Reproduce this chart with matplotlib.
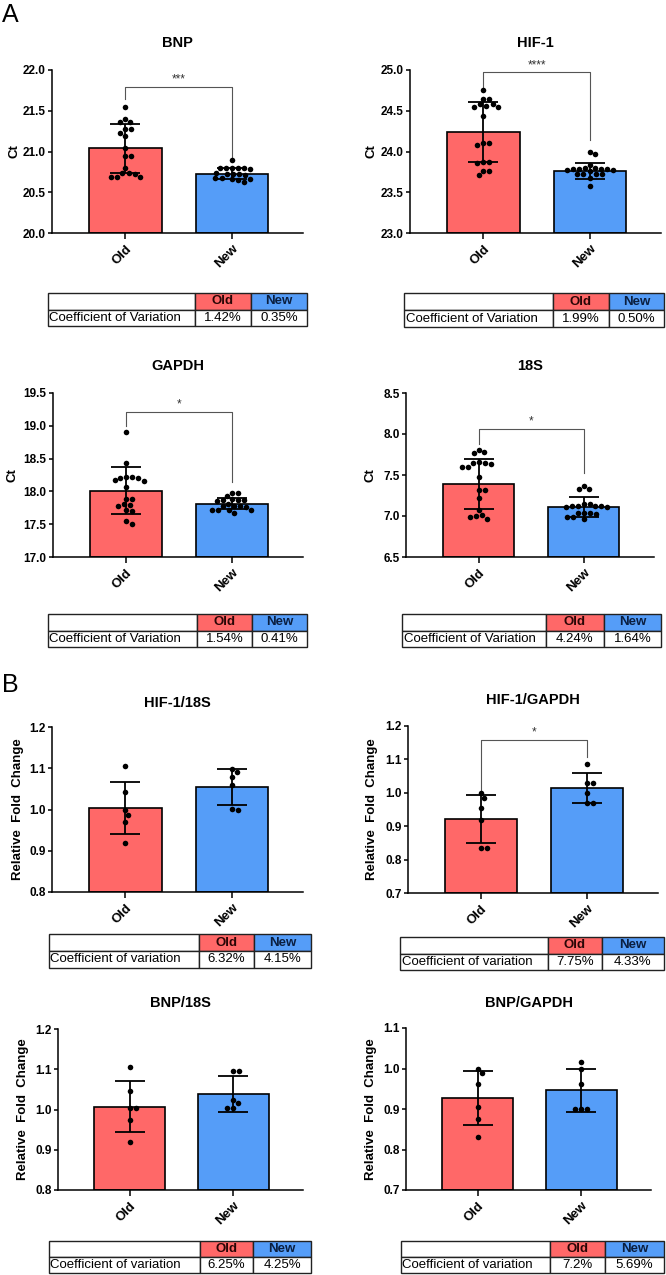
import numpy as np
import matplotlib
matplotlib.use("Agg")
import matplotlib.pyplot as plt
from matplotlib.patches import Rectangle

plt.rcParams['font.family'] = ['Liberation Sans', 'DejaVu Sans']

W, H = 666, 1275

groups = ["Old", "New"]
titles = ["BNP", "HIF-1", "GAPDH", "18S", "HIF-1/18S", "HIF-1/GAPDH", "BNP/18S", "BNP/GAPDH"]
ylabels = ["Ct"] * 4 + ["Relative  Fold  Change"] * 4

# ---- raw Ct values (panel A) ----
bnp_old = [21.55, 21.40, 21.36, 21.36, 21.27, 21.27, 21.23, 21.19, 21.04,
           20.95, 20.95, 20.80, 20.74, 20.74, 20.73, 20.69, 20.69, 20.69]
bnp_new = [20.89, 20.80, 20.80, 20.80, 20.80, 20.80, 20.79, 20.74, 20.73,
           20.72, 20.72, 20.71, 20.68, 20.67, 20.66, 20.66, 20.65, 20.63]
hif_old = [24.75, 24.64, 24.64, 24.58, 24.58, 24.56, 24.55, 24.55, 24.43,
           24.10, 24.10, 24.08, 23.87, 23.87, 23.86, 23.76, 23.76, 23.71]
hif_new = [24.00, 23.97, 23.84, 23.80, 23.80, 23.79, 23.79, 23.78, 23.78,
           23.77, 23.77, 23.76, 23.73, 23.73, 23.72, 23.72, 23.67, 23.58]
gapdh_old = [18.91, 18.43, 18.22, 18.21, 18.20, 18.22, 18.17, 18.16, 18.07,
             17.89, 17.88, 17.81, 17.80, 17.78, 17.71, 17.70, 17.55, 17.51]
gapdh_new = [17.98, 17.97, 17.93, 17.87, 17.87, 17.86, 17.87, 17.88, 17.81,
             17.77, 17.77, 17.76, 17.77, 17.72, 17.72, 17.71, 17.72, 17.67]
s18_old = [7.81, 7.78, 7.77, 7.65, 7.64, 7.66, 7.65, 7.60, 7.60,
           7.48, 7.32, 7.32, 7.22, 7.07, 7.01, 7.00, 6.99, 6.96]
s18_new = [7.37, 7.33, 7.33, 7.15, 7.15, 7.12, 7.12, 7.11, 7.12,
           7.12, 7.11, 7.04, 7.04, 7.03, 7.04, 6.99, 6.99, 6.96]

# ---- relative fold change (panel B) ----
hif18_old = [1.105, 1.042, 1.000, 0.987, 0.970, 0.920]
hif18_new = [1.099, 1.091, 1.079, 1.060, 1.000, 1.002]
hifg_old = [1.000, 0.985, 0.953, 0.918, 0.836, 0.836]
hifg_new = [1.085, 1.030, 1.030, 1.000, 0.968, 0.968]
bnp18_old = [1.105, 1.045, 1.003, 1.003, 0.973, 0.920]
bnp18_new = [1.096, 1.096, 1.024, 1.016, 1.003, 1.003]
bnpg_old = [0.999, 0.989, 0.962, 0.906, 0.876, 0.830]
bnpg_new = [1.017, 1.000, 0.961, 0.900, 0.900, 0.900]

# ---- bar means and SDs (Old, New) ----
bar_means = [[21.04, 20.73], [24.24, 23.76], [18.01, 17.81], [7.39, 7.11],
             [1.004, 1.055], [0.921, 1.015], [1.007, 1.039], [0.927, 0.946]]
bar_sds = [[0.30, 0.07], [0.37, 0.10], [0.355, 0.085], [0.31, 0.12],
           [0.063, 0.044], [0.072, 0.045], [0.064, 0.044], [0.067, 0.054]]

# ---- axis ranges ----
y_lims = [(20, 22), (23, 25), (17, 19.5), (6.5, 8.5), (0.8, 1.2), (0.7, 1.2), (0.8, 1.2), (0.7, 1.1)]
y_steps = [0.5, 0.5, 0.5, 0.5, 0.1, 0.1, 0.1, 0.1]

# ---- significance (label, bracket top, left leg end, right leg end) ----
sig_labels = ["***", "****", "*", "*", None, "*", None, None]
sig_levels = [(21.79, 21.64, 20.89), (24.97, 24.79, 24.14), (19.21, 19.00, 18.14),
              (8.06, 7.88, 7.52), None, (1.158, 1.008, 1.108), None, None]

# ---- coefficient of variation tables ----
cv_row = ["Coefficient of Variation"] * 4 + ["Coefficient of variation"] * 4
cv_old = ["1.42%", "1.99%", "1.54%", "4.24%", "6.32%", "7.75%", "6.25%", "7.2%"]
cv_new = ["0.35%", "0.50%", "0.41%", "1.64%", "4.15%", "4.33%", "4.25%", "5.69%"]

points = [(bnp_old, bnp_new), (hif_old, hif_new), (gapdh_old, gapdh_new), (s18_old, s18_new),
          (hif18_old, hif18_new), (hifg_old, hifg_new), (bnp18_old, bnp18_new), (bnpg_old, bnpg_new)]

# ---- layout (pixels: left, top, right, bottom) ----
ax_boxes = [(52, 70, 303, 233), (410, 70, 661, 233), (53, 393, 303, 557), (406, 393, 654, 557),
            (52, 727, 303, 892), (408, 726, 658, 893), (58, 1029, 303, 1190), (406, 1028, 651, 1190)]
tab_boxes = [(48, 293, 307, 326, 195, 251), (404, 293, 664, 327, 553, 609),
             (48, 614, 307, 647, 197, 252), (402, 614, 661, 647, 546, 604),
             (49, 934, 311, 968, 199, 254), (400, 937, 664, 970, 548, 602),
             (49, 1241, 311, 1273, 200, 253), (401, 1241, 664, 1273, 550, 605)]
title_y = [43, 43, 366, 366, 703, 700, 1003, 1003]
ylabel_x = [14, 372, 13, 370, 18, 372, 23, 371]

RED = '#FF6868'
BLUE = '#559DF8'
XLIM = (-0.69, 1.67)
BAR_W = 0.68


def swarm_offsets(vals, px_per_y, px_per_x, d=5.8):
    vals = np.asarray(vals, float)
    ypx = vals * px_per_y
    order = np.argsort(-vals)
    placed = []
    offs = np.zeros(len(vals))
    cands = np.concatenate([[0.0], np.ravel(np.column_stack([np.arange(0.5, 60, 0.5),
                                                            -np.arange(0.5, 60, 0.5)]))])
    for i in order:
        for c in cands:
            ok = True
            for (px, py) in placed:
                if (c - px) ** 2 + (ypx[i] - py) ** 2 < d * d:
                    ok = False
                    break
            if ok:
                offs[i] = c
                placed.append((c, ypx[i]))
                break
    return offs / px_per_x


fig = plt.figure(figsize=(W / 100, H / 100), dpi=100)


def fbox(l, t, r, b):
    return [l / W, 1 - b / H, (r - l) / W, (b - t) / H]


for k in range(8):
    l, t, r, b = ax_boxes[k]
    ax = fig.add_axes(fbox(l, t, r, b))
    y0, y1 = y_lims[k]
    ax.set_xlim(*XLIM)
    ax.set_ylim(y0, y1)
    xs = np.arange(2)
    ax.bar(xs, np.array(bar_means[k]) - y0, bottom=y0, width=BAR_W, color=[RED, BLUE],
           edgecolor='black', linewidth=1.2, zorder=1)
    ax.errorbar(xs, bar_means[k], yerr=bar_sds[k], fmt='none', ecolor='black',
                elinewidth=1.3, capsize=10.5, capthick=1.3, zorder=2)
    px_per_y = (b - t) / (y1 - y0)
    px_per_x = (r - l) / (XLIM[1] - XLIM[0])
    for g in range(2):
        v = points[k][g]
        off = swarm_offsets(v, px_per_y, px_per_x)
        ax.scatter(g + off, v, s=16, color='black', zorder=3, linewidths=0, clip_on=False)
    ticks = np.arange(y0, y1 + 1e-9, y_steps[k])
    ax.set_yticks(ticks)
    ax.set_yticklabels([f"{v:.1f}" for v in ticks], fontweight='bold', fontsize=8.5)
    ax.set_xticks(xs)
    ax.set_xticklabels(groups, rotation=45, ha='right', rotation_mode='anchor',
                       fontweight='bold', fontsize=9.5)
    for s in ['top', 'right']:
        ax.spines[s].set_visible(False)
    for s in ['left', 'bottom']:
        ax.spines[s].set_linewidth(1.1)
    ax.tick_params(axis='y', length=3, width=1.1, pad=1.5)
    ax.tick_params(axis='x', length=4, width=1.1, pad=3)
    if sig_labels[k]:
        top, lleg, rleg = sig_levels[k]
        ax.plot([0, 0, 1, 1], [lleg, top, top, rleg], color='#555555', lw=0.8,
                clip_on=False, zorder=2)
        ax.text(0.5, top + (y1 - y0) * 0.008, sig_labels[k], ha='center', va='bottom',
                fontsize=8.5, color='#333333')
    fig.text((l + r) / 2 / W, 1 - title_y[k] / H, titles[k], ha='center', va='center',
             fontweight='bold', fontsize=10.5)
    fig.text(ylabel_x[k] / W, 1 - (t + b) / 2 / H, ylabels[k], ha='center', va='center',
             rotation=90, fontweight='bold', fontsize=9.5)

    # table
    tl, tt, tr, tb, c1, c2 = tab_boxes[k]
    tax = fig.add_axes(fbox(tl, tt, tr, tb))
    tax.set_xlim(tl, tr)
    tax.set_ylim(tb, tt)
    tax.axis('off')
    mid = (tt + tb) / 2
    cells = [(tl, tt, c1, mid, 'white'), (c1, tt, c2, mid, RED), (c2, tt, tr, mid, BLUE),
             (tl, mid, c1, tb, 'white'), (c1, mid, c2, tb, 'white'), (c2, mid, tr, tb, 'white')]
    for (x0, ya, x1, yb, col) in cells:
        tax.add_patch(Rectangle((x0, ya), x1 - x0, yb - ya, facecolor=col,
                                edgecolor='#222222', linewidth=1.0, clip_on=False))
    tax.text((c1 + c2) / 2, (tt + mid) / 2, groups[0], ha='center', va='center',
             fontweight='bold', fontsize=9.5, color='#2a0606')
    tax.text((c2 + tr) / 2, (tt + mid) / 2, groups[1], ha='center', va='center',
             fontweight='bold', fontsize=9.5, color='#0b1f40')
    tax.text(tl + 1.5, (mid + tb) / 2, cv_row[k], ha='left', va='center', fontsize=9.5)
    tax.text((c1 + c2) / 2, (mid + tb) / 2, cv_old[k], ha='center', va='center', fontsize=9.5)
    tax.text((c2 + tr) / 2, (mid + tb) / 2, cv_new[k], ha='center', va='center', fontsize=9.5)

fig.text(2 / W, 1 - 15 / H, "A", ha='left', va='center', fontsize=18)
fig.text(2 / W, 1 - 685 / H, "B", ha='left', va='center', fontsize=18)

fig.savefig("out.png", dpi=100)
